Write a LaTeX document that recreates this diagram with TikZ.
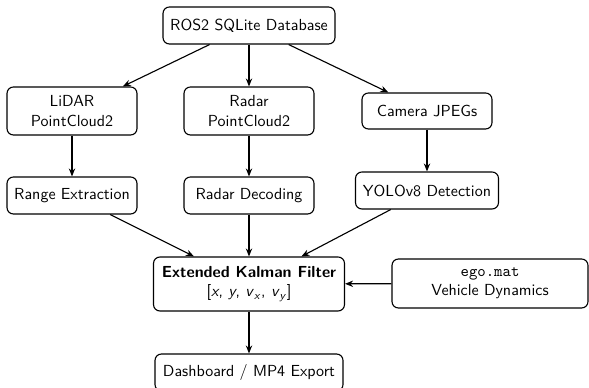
\documentclass[tikz,border=0pt]{standalone}
\usetikzlibrary{arrows.meta}
\renewcommand{\familydefault}{\sfdefault}
\newcommand{\svar}[1]{\textit{#1}}
\newcommand{\pxu}{0.625pt}
\begin{document}
\begin{tikzpicture}[x=\pxu, y=-\pxu,
  box/.style={draw, rounded corners=4pt, align=center, inner sep=0pt, font=\sffamily, line width=0.7pt},
  flow/.style={-{Stealth[length=5pt,width=4pt]}, line width=0.7pt}]
  \useasboundingbox (0,0) rectangle (589,388);

  \node[box, minimum width=172*\pxu, minimum height=37*\pxu] (db) at (249,25.5) {ROS2 SQLite Database};

  \node[box, minimum width=130*\pxu, minimum height=48*\pxu] (lidar) at (72,111) {LiDAR\\PointCloud2};
  \node[box, minimum width=130*\pxu, minimum height=48*\pxu] (radar) at (249,111) {Radar\\PointCloud2};
  \node[box, minimum width=130*\pxu, minimum height=36*\pxu] (cam) at (427,111) {Camera JPEGs};

  \node[box, minimum width=130*\pxu, minimum height=37*\pxu] (range) at (72,195.5) {Range Extraction};
  \node[box, minimum width=130*\pxu, minimum height=37*\pxu] (rdec) at (249,195.5) {Radar Decoding};
  \node[box, minimum width=143*\pxu, minimum height=37*\pxu] (yolo) at (427,190.5) {YOLOv8 Detection};

  \node[box, minimum width=191*\pxu, minimum height=54*\pxu] (ekf) at (249,284)
    {\textbf{Extended Kalman Filter}\\{[}\svar{x}, \svar{y}, \svar{v}\textsubscript{\svar{x}}, \svar{v}\textsubscript{\svar{y}}{]}};
  \node[box, minimum width=196*\pxu, minimum height=49*\pxu] (ego) at (490,283.5)
    {\texttt{ego.mat}\\Vehicle Dynamics};

  \node[box, minimum width=188*\pxu, minimum height=37*\pxu] (dash) at (249,372.5) {Dashboard / MP4 Export};

  \draw[flow] (db) -- (lidar);
  \draw[flow] (db) -- (radar);
  \draw[flow] (db) -- (cam);
  \draw[flow] (lidar) -- (range);
  \draw[flow] (radar) -- (rdec);
  \draw[flow] (cam) -- (yolo);
  \draw[flow] (range) -- (ekf);
  \draw[flow] (rdec) -- (ekf);
  \draw[flow] (yolo) -- (ekf);
  \draw[flow] (ego) -- (ekf);
  \draw[flow] (ekf) -- (dash);
\end{tikzpicture}
\end{document}
